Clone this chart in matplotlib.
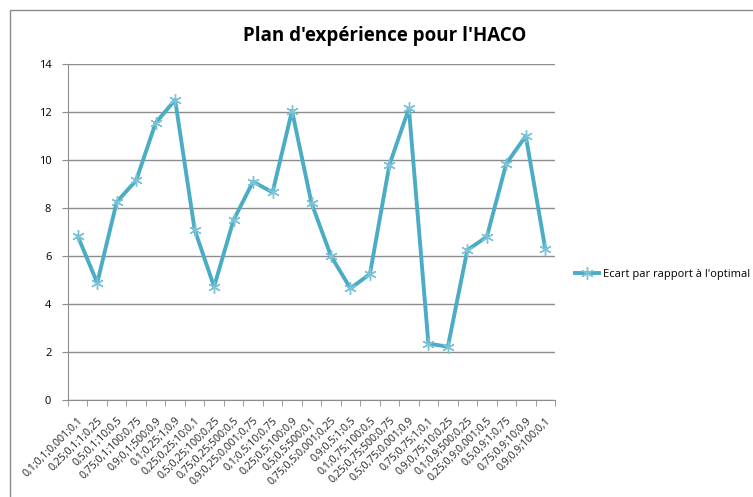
import matplotlib
matplotlib.use("Agg")
import matplotlib.pyplot as plt
from matplotlib.patches import Rectangle

# ─── Data ─────────────────────────────────────────────────────────────────────
configs = [
    "0,1;0,1;0,001;0,1", "0,25;0,1;1;0,25", "0,5;0,1;10;0,5", "0,75;0,1;100;0,75",
    "0,9;0,1;500;0,9", "0,1;0,25;1;0,9", "0,25;0,25;10;0,1", "0,5;0,25;100;0,25",
    "0,75;0,25;500;0,5", "0,9;0,25;0,001;0,75", "0,1;0,5;10;0,75", "0,25;0,5;100;0,9",
    "0,5;0,5;500;0,1", "0,75;0,5;0,001;0,25", "0,9;0,5;1;0,5", "0,1;0,75;100;0,5",
    "0,25;0,75;500;0,75", "0,5;0,75;0,001;0,9", "0,75;0,75;1;0,1", "0,9;0,75;10;0,25",
    "0,1;0,9;500;0,25", "0,25;0,9;0,001;0,5", "0,5;0,9;1;0,75", "0,75;0,9;10;0,9",
    "0,9;0,9;100;0,1",
]
ecart = [6.83, 4.88, 8.25, 9.15, 11.55, 12.5, 7.1, 4.72, 7.5, 9.1,
         8.65, 12.05, 8.2, 6.0, 4.65, 5.25, 9.8, 12.15, 2.35, 2.22,
         6.25, 6.8, 9.85, 11.0, 6.3]
yticks = [0, 2, 4, 6, 8, 10, 12, 14]

LINE_COLOR = "#4BACC6"
GRID_COLOR = "#8c8c8c"
FONT = ["Open Sans", "DejaVu Sans"]

fig = plt.figure(figsize=(7.53, 4.97), dpi=100)
ax = fig.add_axes([68 / 753, 97 / 497, 487 / 753, 336 / 497])

# outer chart frame (Excel chart area border)
fig.patches.append(Rectangle((10 / 753, -0.1), 1.2, (487 / 497) + 0.1,
                             transform=fig.transFigure, fill=False,
                             edgecolor="#8a8a8a", linewidth=1.0))

x = range(len(configs))
ax.plot(x, ecart, color=LINE_COLOR, linewidth=2.8, marker=(6, 2, 0),
        markersize=9, markeredgecolor="#7cc3d6", markeredgewidth=1.0,
        label="Ecart par rapport à l'optimal")

ax.set_xlim(-0.5, len(configs) - 0.5)
ax.set_ylim(0, 14)
ax.set_yticks(yticks)
ax.set_yticklabels([str(v) for v in yticks], fontsize=8, family=FONT)
ax.yaxis.grid(True, color=GRID_COLOR, linewidth=1.0)
ax.set_axisbelow(True)

# category labels centred, ticks at category boundaries
ax.set_xticks(list(x))
ax.set_xticklabels(configs, rotation=45, ha="right", rotation_mode="anchor",
                   fontsize=7.6, family=FONT, color="#222222")
ax.tick_params(axis="x", length=0, pad=11)
ax.set_xticks([i - 0.5 for i in range(len(configs) + 1)], minor=True)
ax.tick_params(axis="x", which="minor", length=4, color=GRID_COLOR, direction="out")
ax.tick_params(axis="y", length=4, color=GRID_COLOR, pad=8)

for side in ["top", "right"]:
    ax.spines[side].set_visible(False)
for side in ["left", "bottom"]:
    ax.spines[side].set_color(GRID_COLOR)

fig.text(385 / 753, 1 - 36 / 497, "Plan d'expérience pour l'HACO", ha="center",
         va="center", fontsize=13.5, fontweight="bold", family=FONT)

ax.legend(loc="center left", bbox_to_anchor=(1.02, 0.375), frameon=False,
          prop={"family": FONT, "size": 8}, handlelength=2.2, handletextpad=0.3)

plt.savefig("out.png", dpi=100)
